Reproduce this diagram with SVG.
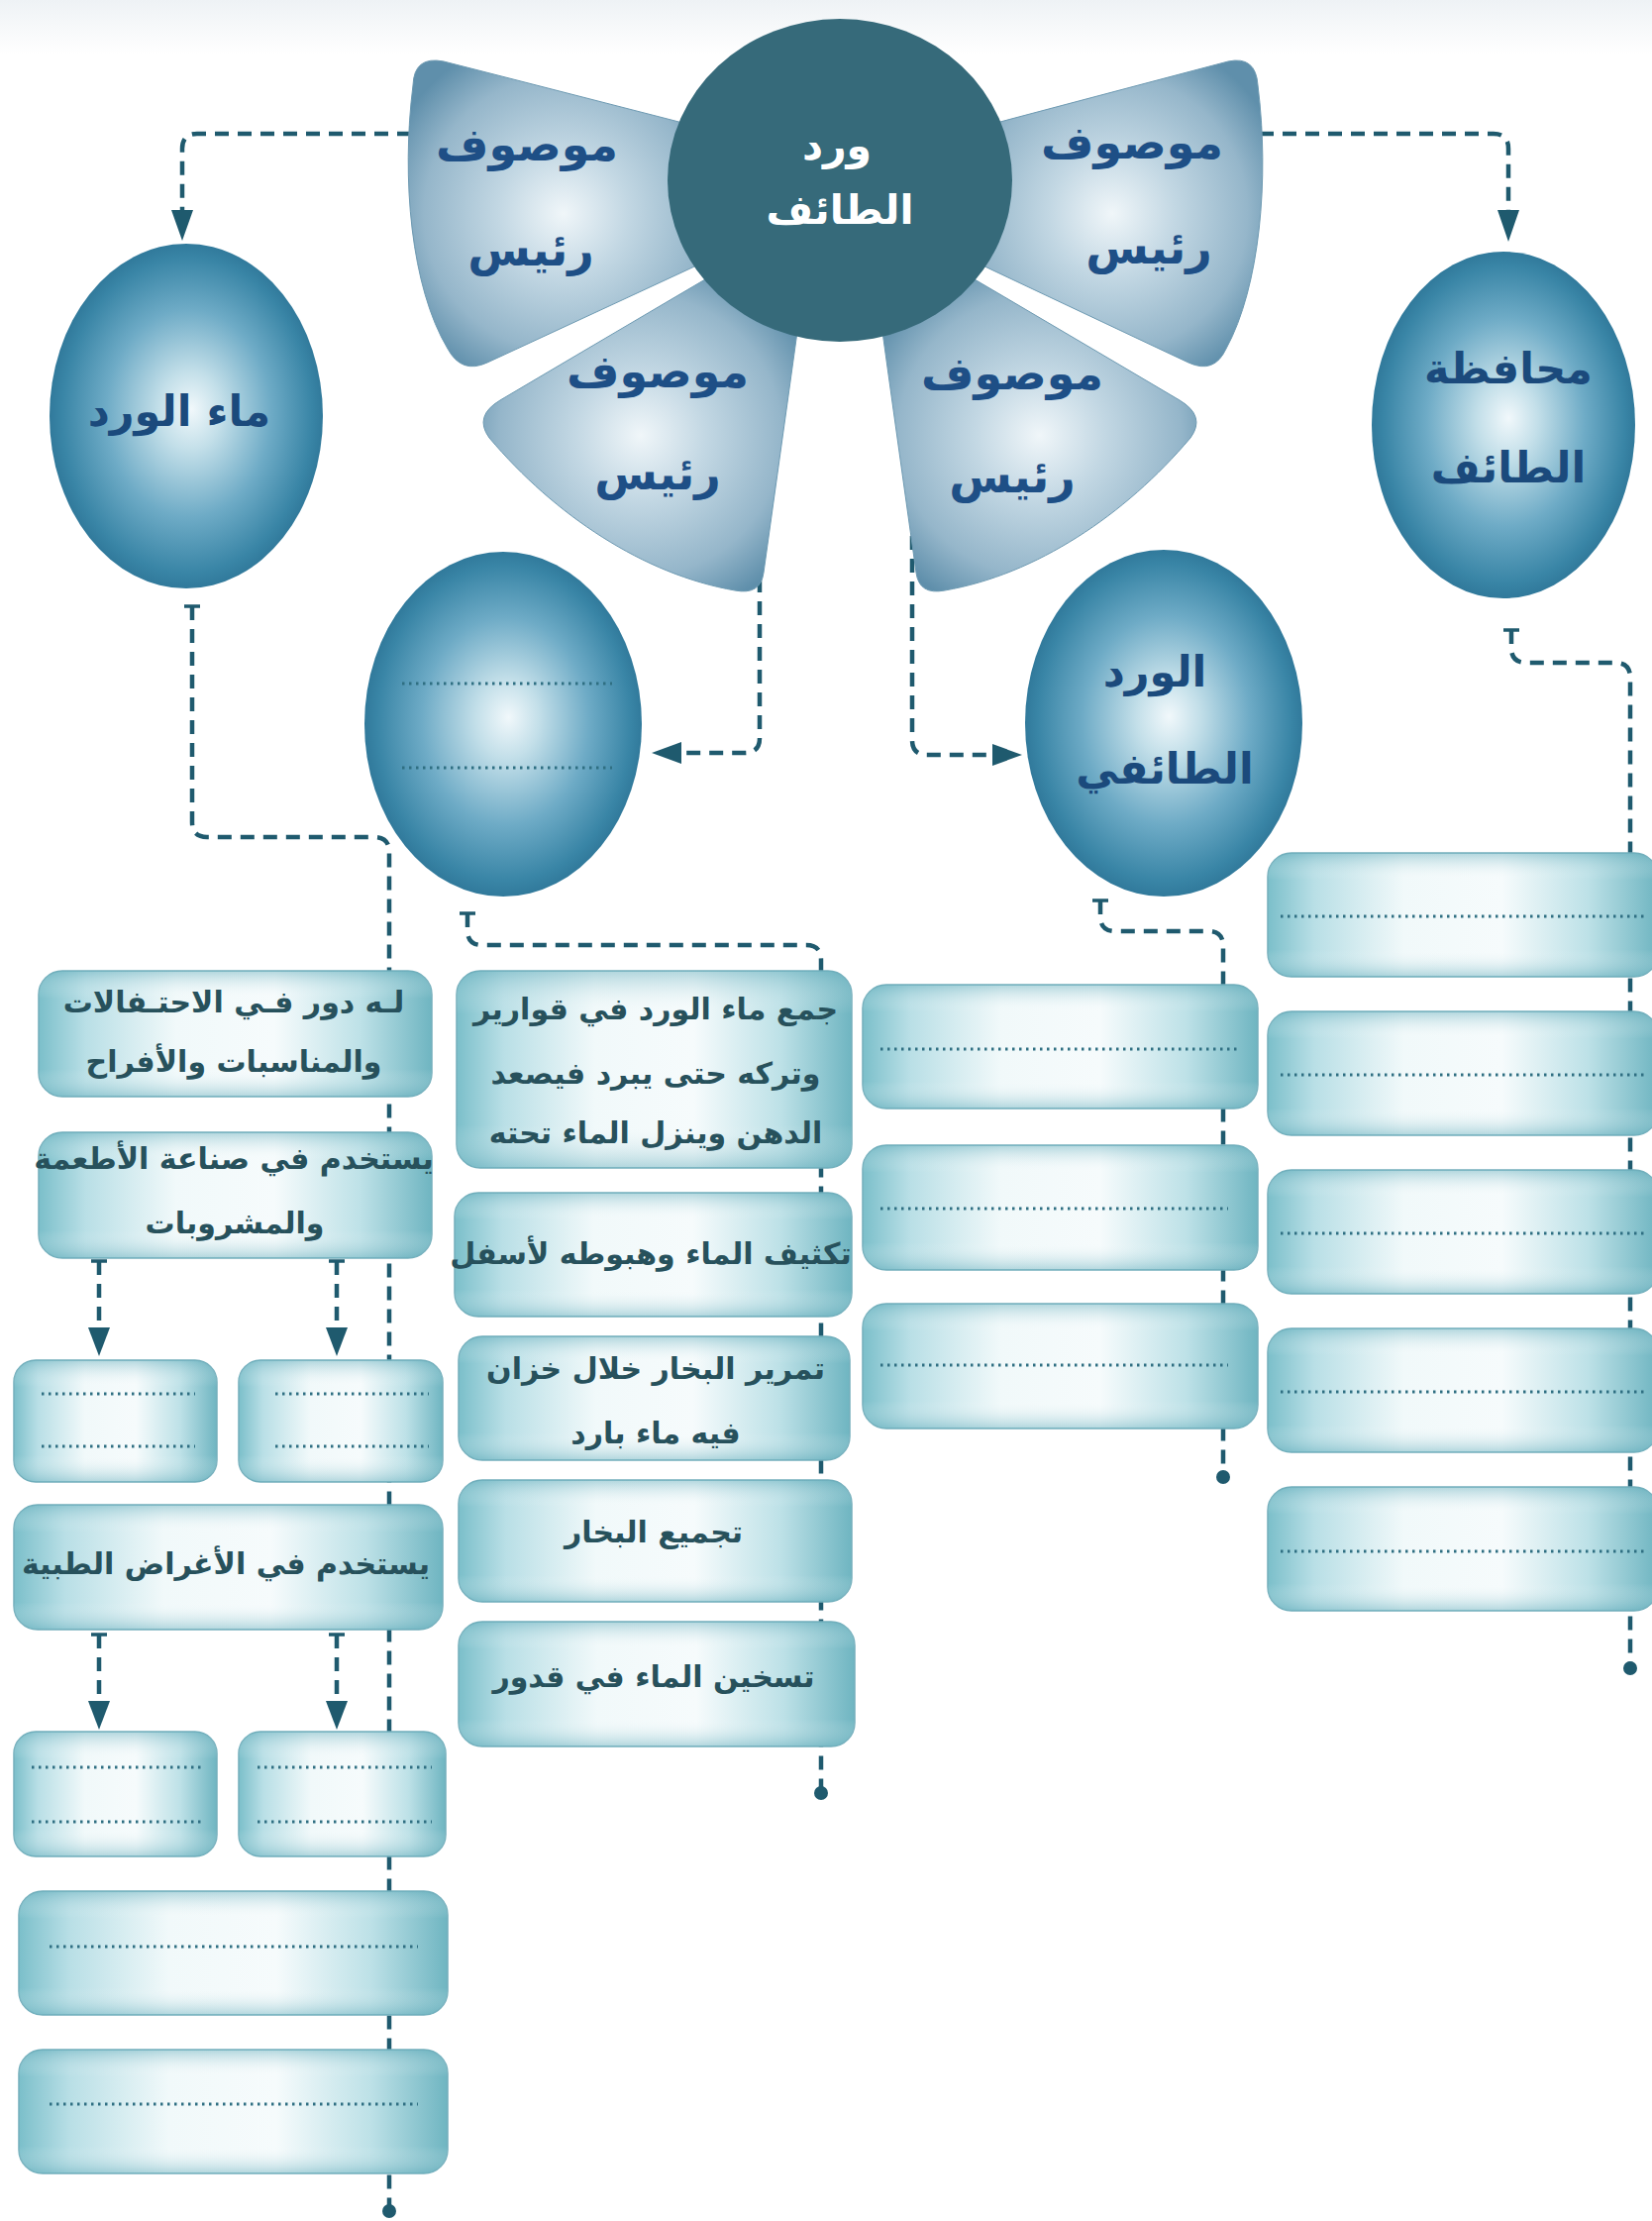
<svg xmlns="http://www.w3.org/2000/svg" width="1668" height="2242" viewBox="0 0 1668 2242">
<defs>
<radialGradient id="sph" cx="50%" cy="50%" r="52%" fx="52%" fy="48%">
<stop offset="0" stop-color="#f1f8fb"/>
<stop offset="0.22" stop-color="#c3dfe9"/>
<stop offset="0.58" stop-color="#6eabc6"/>
<stop offset="0.88" stop-color="#3985a6"/>
<stop offset="1" stop-color="#2d7496"/>
</radialGradient>
<radialGradient id="pet" cx="50%" cy="50%" r="60%">
<stop offset="0" stop-color="#f0f6f9"/>
<stop offset="0.35" stop-color="#c2d7e3"/>
<stop offset="0.75" stop-color="#95b6ca"/>
<stop offset="1" stop-color="#5f8fab"/>
</radialGradient>
<linearGradient id="boxh" x1="0" y1="0" x2="1" y2="0">
<stop offset="0" stop-color="#7bbfca"/>
<stop offset="0.12" stop-color="#b9dfe6"/>
<stop offset="0.35" stop-color="#f1f9fa"/>
<stop offset="0.6" stop-color="#f6fbfc"/>
<stop offset="0.82" stop-color="#bde1e7"/>
<stop offset="1" stop-color="#6fb5c1"/>
</linearGradient>
<linearGradient id="boxv" x1="0" y1="0" x2="0" y2="1">
<stop offset="0" stop-color="#5ea9b8" stop-opacity="0.45"/>
<stop offset="0.22" stop-color="#ffffff" stop-opacity="0"/>
<stop offset="0.78" stop-color="#ffffff" stop-opacity="0"/>
<stop offset="1" stop-color="#5ea9b8" stop-opacity="0.45"/>
</linearGradient>
<linearGradient id="topband" x1="0" y1="0" x2="0" y2="1">
<stop offset="0" stop-color="#eef2f5"/>
<stop offset="1" stop-color="#ffffff"/>
</linearGradient>
</defs>
<style>
.pt{font-family:'DejaVu Sans',sans-serif;font-weight:bold;font-size:46px;fill:#1e4f86;text-anchor:middle}
.st{font-family:'DejaVu Sans',sans-serif;font-weight:bold;font-size:43px;fill:#1b4a7c;text-anchor:middle}
.ct{font-family:'DejaVu Sans',sans-serif;font-weight:bold;font-size:41px;fill:#ffffff;text-anchor:middle}
.bt{font-family:'DejaVu Sans',sans-serif;font-weight:bold;font-size:30px;fill:#27515c;text-anchor:middle}
.box{fill:url(#boxh);stroke:#74afbc;stroke-width:1.5}
.boxo{fill:url(#boxv)}
.petal{fill:url(#pet);stroke:#6e9ab2;stroke-width:1}
.sphere{fill:url(#sph)}
.dot{fill:none;stroke:#2f6f82;stroke-width:2.8;stroke-dasharray:2.5 4.5}
.con{fill:none;stroke:#1f5a6e;stroke-width:4.5;stroke-dasharray:14 9}
.cap{fill:none;stroke:#1f5a6e;stroke-width:3.5}
.ah{fill:#1f5a6e}
</style>
<rect x="0" y="0" width="1668" height="2242" fill="#ffffff"/>
<rect x="0" y="0" width="1668" height="55" fill="url(#topband)"/>

<g id="connectors">
<path class="con" d="M415,135 H199 Q184,135 184,150 V214"/>
<polygon class="ah" points="173,212 195,212 184,243"/>
<path class="cap" d="M415,127 V143"/>
<path class="con" d="M1272,135 H1508 Q1523,135 1523,150 V214"/>
<polygon class="ah" points="1512,212 1534,212 1523,244"/>
<path class="cap" d="M1272,127 V143"/>
<path class="con" d="M194,612 V830 Q194,845 209,845 H378 Q393,845 393,860 V2226"/>
<path class="cap" d="M186,612 H202"/>
<circle class="ah" cx="393" cy="2232" r="7"/>
<path class="con" d="M767,492 V745 Q767,760 752,760 H688"/>
<polygon class="ah" points="688,749 688,771 658,760"/>
<path class="con" d="M921,495 V747 Q921,762 936,762 H1002"/>
<polygon class="ah" points="1002,751 1002,773 1032,762"/>
<path class="con" d="M472,922 V939 Q472,954 487,954 H814 Q829,954 829,969 V1804"/>
<path class="cap" d="M464,922 H480"/>
<circle class="ah" cx="829" cy="1810" r="7"/>
<path class="con" d="M1111,909 V925 Q1111,940 1126,940 H1220 Q1235,940 1235,955 V1485"/>
<path class="cap" d="M1103,909 H1119"/>
<circle class="ah" cx="1235" cy="1491" r="7"/>
<path class="con" d="M1526,636 V654 Q1526,669 1541,669 H1631 Q1646,669 1646,684 V1678"/>
<path class="cap" d="M1518,636 H1534"/>
<circle class="ah" cx="1646" cy="1684" r="7"/>
<path class="con" d="M100,1273 V1340"/>
<polygon class="ah" points="89,1340 111,1340 100,1369"/>
<path class="cap" d="M92,1273 H108"/>
<path class="con" d="M340,1273 V1340"/>
<polygon class="ah" points="329,1340 351,1340 340,1369"/>
<path class="cap" d="M332,1273 H348"/>
<path class="con" d="M100,1650 V1717"/>
<polygon class="ah" points="89,1717 111,1717 100,1746"/>
<path class="cap" d="M92,1650 H108"/>
<path class="con" d="M340,1650 V1717"/>
<polygon class="ah" points="329,1717 351,1717 340,1746"/>
<path class="cap" d="M332,1650 H348"/>
</g>

<g id="petal-tl">
<path class="petal" d="M705,128 L448,62 Q418,56 417,86 C405,180 415,290 452,352 Q466,378 492,366 L725,258 Z"/>
<text class="pt" x="532" y="162">موصوف</text>
<text class="pt" x="536" y="268">رئيس</text>
</g>
<g id="petal-bl">
<path class="petal" d="M712,282 L505,404 Q478,420 494,442 C560,520 650,580 742,596 Q768,601 771,578 L805,335 Z"/>
<text class="pt" x="664" y="391">موصوف</text>
<text class="pt" x="664" y="494">رئيس</text>
</g>
<g id="petal-br">
<path class="petal" d="M984,282 L1191,404 Q1218,420 1202,442 C1136,520 1046,580 954,596 Q928,601 925,578 L891,335 Z"/>
<text class="pt" x="1022" y="393">موصوف</text>
<text class="pt" x="1022" y="497">رئيس</text>
</g>
<g id="petal-tr">
<path class="petal" d="M991,128 L1240,62 Q1268,56 1270,86 C1282,180 1272,290 1238,352 Q1226,378 1200,366 L971,258 Z"/>
<text class="pt" x="1143" y="160">موصوف</text>
<text class="pt" x="1160" y="266">رئيس</text>
</g>
<g id="center">
<ellipse cx="848" cy="182" rx="174" ry="163" fill="#366a7a"/>
<text class="ct" x="845" y="161">ورد</text>
<text class="ct" x="848" y="226">الطائف</text>
</g>

<g id="sphere-rosewater">
<ellipse class="sphere" cx="188" cy="420" rx="138" ry="174"/>
<text class="st" x="181" y="430">ماء الورد</text>
</g>
<g id="sphere-blank">
<ellipse class="sphere" cx="508" cy="731" rx="140" ry="174"/>
<line class="dot" x1="406" y1="690" x2="618" y2="690"/>
<line class="dot" x1="406" y1="775" x2="618" y2="775"/>
</g>
<g id="sphere-taif">
<ellipse class="sphere" cx="1518" cy="429" rx="133" ry="175"/>
<text class="st" x="1523" y="387">محافظة</text>
<text class="st" x="1523" y="487">الطائف</text>
</g>
<g id="sphere-taifrose">
<ellipse class="sphere" cx="1175" cy="730" rx="140" ry="175"/>
<text class="st" x="1166" y="693">الورد</text>
<text class="st" x="1176" y="791">الطائفي</text>
</g>

<g id="box-l1">
<rect class="box" x="39" y="980" width="397" height="127" rx="24"/>
<rect class="boxo" x="39" y="980" width="397" height="127" rx="24"/>
<text class="bt" x="236" y="1022">لـه دور فـي الاحتـفالات</text>
<text class="bt" x="236" y="1082">والمناسبات والأفراح</text>
</g>
<g id="box-l2">
<rect class="box" x="39" y="1143" width="397" height="127" rx="24"/>
<rect class="boxo" x="39" y="1143" width="397" height="127" rx="24"/>
<text class="bt" x="236" y="1180">يستخدم في صناعة الأطعمة</text>
<text class="bt" x="237" y="1245">والمشروبات</text>
</g>
<g id="box-s1">
<rect class="box" x="14" y="1373" width="205" height="123" rx="22"/>
<rect class="boxo" x="14" y="1373" width="205" height="123" rx="22"/>
<line class="dot" x1="42" y1="1407" x2="197" y2="1407"/>
<line class="dot" x1="42" y1="1460" x2="197" y2="1460"/>
</g>
<g id="box-s2">
<rect class="box" x="241" y="1373" width="206" height="123" rx="22"/>
<rect class="boxo" x="241" y="1373" width="206" height="123" rx="22"/>
<line class="dot" x1="278" y1="1407" x2="433" y2="1407"/>
<line class="dot" x1="278" y1="1460" x2="433" y2="1460"/>
</g>
<g id="box-l3">
<rect class="box" x="14" y="1519" width="433" height="126" rx="24"/>
<rect class="boxo" x="14" y="1519" width="433" height="126" rx="24"/>
<text class="bt" x="228" y="1589">يستخدم في الأغراض الطبية</text>
</g>
<g id="box-s3">
<rect class="box" x="14" y="1748" width="205" height="126" rx="22"/>
<rect class="boxo" x="14" y="1748" width="205" height="126" rx="22"/>
<line class="dot" x1="32" y1="1784" x2="203" y2="1784"/>
<line class="dot" x1="32" y1="1839" x2="203" y2="1839"/>
</g>
<g id="box-s4">
<rect class="box" x="241" y="1748" width="209" height="126" rx="22"/>
<rect class="boxo" x="241" y="1748" width="209" height="126" rx="22"/>
<line class="dot" x1="260" y1="1784" x2="436" y2="1784"/>
<line class="dot" x1="260" y1="1839" x2="436" y2="1839"/>
</g>
<g id="box-l4">
<rect class="box" x="19" y="1909" width="433" height="125" rx="24"/>
<rect class="boxo" x="19" y="1909" width="433" height="125" rx="24"/>
<line class="dot" x1="50" y1="1965" x2="422" y2="1965"/>
</g>
<g id="box-l5">
<rect class="box" x="19" y="2069" width="433" height="125" rx="24"/>
<rect class="boxo" x="19" y="2069" width="433" height="125" rx="24"/>
<line class="dot" x1="50" y1="2124" x2="422" y2="2124"/>
</g>

<g id="box-m1">
<rect class="box" x="461" y="980" width="399" height="199" rx="24"/>
<rect class="boxo" x="461" y="980" width="399" height="199" rx="24"/>
<text class="bt" x="662" y="1029">جمع ماء الورد في قوارير</text>
<text class="bt" x="662" y="1094">وتركه حتى يبرد فيصعد</text>
<text class="bt" x="662" y="1154">الدهن وينزل الماء تحته</text>
</g>
<g id="box-m2">
<rect class="box" x="459" y="1204" width="401" height="125" rx="24"/>
<rect class="boxo" x="459" y="1204" width="401" height="125" rx="24"/>
<text class="bt" x="657" y="1276">تكثيف الماء وهبوطه لأسفل</text>
</g>
<g id="box-m3">
<rect class="box" x="463" y="1349" width="395" height="125" rx="24"/>
<rect class="boxo" x="463" y="1349" width="395" height="125" rx="24"/>
<text class="bt" x="662" y="1392">تمرير البخار خلال خزان</text>
<text class="bt" x="662" y="1457">فيه ماء بارد</text>
</g>
<g id="box-m4">
<rect class="box" x="463" y="1494" width="397" height="123" rx="24"/>
<rect class="boxo" x="463" y="1494" width="397" height="123" rx="24"/>
<text class="bt" x="660" y="1557">تجميع البخار</text>
</g>
<g id="box-m5">
<rect class="box" x="463" y="1637" width="400" height="126" rx="24"/>
<rect class="boxo" x="463" y="1637" width="400" height="126" rx="24"/>
<text class="bt" x="660" y="1703">تسخين الماء في قدور</text>
</g>

<g id="box-r1">
<rect class="box" x="871" y="994" width="399" height="125" rx="24"/>
<rect class="boxo" x="871" y="994" width="399" height="125" rx="24"/>
<line class="dot" x1="889" y1="1059" x2="1252" y2="1059"/>
</g>
<g id="box-r2">
<rect class="box" x="871" y="1156" width="399" height="126" rx="24"/>
<rect class="boxo" x="871" y="1156" width="399" height="126" rx="24"/>
<line class="dot" x1="889" y1="1220" x2="1240" y2="1220"/>
</g>
<g id="box-r3">
<rect class="box" x="871" y="1316" width="399" height="126" rx="24"/>
<rect class="boxo" x="871" y="1316" width="399" height="126" rx="24"/>
<line class="dot" x1="889" y1="1378" x2="1240" y2="1378"/>
</g>

<g id="box-t1">
<rect class="box" x="1280" y="861" width="394" height="125" rx="24"/>
<rect class="boxo" x="1280" y="861" width="394" height="125" rx="24"/>
<line class="dot" x1="1293" y1="925" x2="1664" y2="925"/>
</g>
<g id="box-t2">
<rect class="box" x="1280" y="1021" width="394" height="125" rx="24"/>
<rect class="boxo" x="1280" y="1021" width="394" height="125" rx="24"/>
<line class="dot" x1="1293" y1="1085" x2="1664" y2="1085"/>
</g>
<g id="box-t3">
<rect class="box" x="1280" y="1181" width="394" height="125" rx="24"/>
<rect class="boxo" x="1280" y="1181" width="394" height="125" rx="24"/>
<line class="dot" x1="1293" y1="1245" x2="1664" y2="1245"/>
</g>
<g id="box-t4">
<rect class="box" x="1280" y="1341" width="394" height="125" rx="24"/>
<rect class="boxo" x="1280" y="1341" width="394" height="125" rx="24"/>
<line class="dot" x1="1293" y1="1405" x2="1664" y2="1405"/>
</g>
<g id="box-t5">
<rect class="box" x="1280" y="1501" width="394" height="125" rx="24"/>
<rect class="boxo" x="1280" y="1501" width="394" height="125" rx="24"/>
<line class="dot" x1="1293" y1="1566" x2="1664" y2="1566"/>
</g>
</svg>
